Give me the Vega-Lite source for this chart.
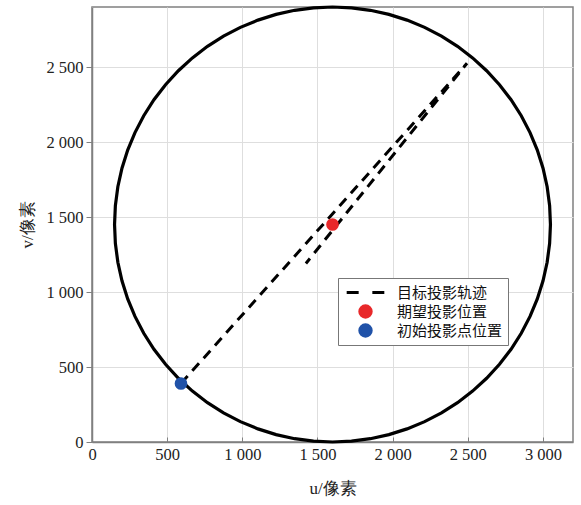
{
  "$schema": "https://vega.github.io/schema/vega-lite/v6.json",
  "width": 481,
  "height": 435,
  "autosize": {"type": "none"},
  "padding": {"left": 92, "top": 7, "right": 8, "bottom": 63},
  "background": "white",
  "config": {
    "view": {"stroke": "#808080", "strokeWidth": 1.5},
    "axis": {
      "labelFont": "Liberation Serif",
      "labelFontSize": 16.5,
      "labelColor": "#222222",
      "titleFont": "Liberation Serif",
      "titleFontSize": 17,
      "titleFontWeight": "normal",
      "titleColor": "#222222",
      "gridColor": "#dedede",
      "gridWidth": 1,
      "domainColor": "#808080",
      "domainWidth": 1.5,
      "tickColor": "#808080",
      "tickWidth": 1
    }
  },
  "datasets": {
    "circle": [
      {"i": 0, "u": 3050, "v": 1450},
      {"i": 1, "u": 3044.5, "v": 1576.4},
      {"i": 2, "u": 3028.0, "v": 1701.8},
      {"i": 3, "u": 3000.6, "v": 1825.3},
      {"i": 4, "u": 2962.5, "v": 1945.9},
      {"i": 5, "u": 2914.1, "v": 2062.8},
      {"i": 6, "u": 2855.7, "v": 2175},
      {"i": 7, "u": 2787.8, "v": 2281.7},
      {"i": 8, "u": 2710.8, "v": 2382.0},
      {"i": 9, "u": 2625.3, "v": 2475.3},
      {"i": 10, "u": 2532.0, "v": 2560.8},
      {"i": 11, "u": 2431.7, "v": 2637.8},
      {"i": 12, "u": 2325, "v": 2705.7},
      {"i": 13, "u": 2212.8, "v": 2764.1},
      {"i": 14, "u": 2095.9, "v": 2812.5},
      {"i": 15, "u": 1975.3, "v": 2850.6},
      {"i": 16, "u": 1851.8, "v": 2878.0},
      {"i": 17, "u": 1726.4, "v": 2894.5},
      {"i": 18, "u": 1600, "v": 2900},
      {"i": 19, "u": 1473.6, "v": 2894.5},
      {"i": 20, "u": 1348.2, "v": 2878.0},
      {"i": 21, "u": 1224.7, "v": 2850.6},
      {"i": 22, "u": 1104.1, "v": 2812.5},
      {"i": 23, "u": 987.2, "v": 2764.1},
      {"i": 24, "u": 875, "v": 2705.7},
      {"i": 25, "u": 768.3, "v": 2637.8},
      {"i": 26, "u": 668.0, "v": 2560.8},
      {"i": 27, "u": 574.7, "v": 2475.3},
      {"i": 28, "u": 489.2, "v": 2382.0},
      {"i": 29, "u": 412.2, "v": 2281.7},
      {"i": 30, "u": 344.3, "v": 2175},
      {"i": 31, "u": 285.9, "v": 2062.8},
      {"i": 32, "u": 237.5, "v": 1945.9},
      {"i": 33, "u": 199.4, "v": 1825.3},
      {"i": 34, "u": 172.0, "v": 1701.8},
      {"i": 35, "u": 155.5, "v": 1576.4},
      {"i": 36, "u": 150, "v": 1450},
      {"i": 37, "u": 155.5, "v": 1323.6},
      {"i": 38, "u": 172.0, "v": 1198.2},
      {"i": 39, "u": 199.4, "v": 1074.7},
      {"i": 40, "u": 237.5, "v": 954.1},
      {"i": 41, "u": 285.9, "v": 837.2},
      {"i": 42, "u": 344.3, "v": 725},
      {"i": 43, "u": 412.2, "v": 618.3},
      {"i": 44, "u": 489.2, "v": 518.0},
      {"i": 45, "u": 574.7, "v": 424.7},
      {"i": 46, "u": 668.0, "v": 339.2},
      {"i": 47, "u": 768.3, "v": 262.2},
      {"i": 48, "u": 875, "v": 194.3},
      {"i": 49, "u": 987.2, "v": 135.9},
      {"i": 50, "u": 1104.1, "v": 87.5},
      {"i": 51, "u": 1224.7, "v": 49.4},
      {"i": 52, "u": 1348.2, "v": 22.0},
      {"i": 53, "u": 1473.6, "v": 5.5},
      {"i": 54, "u": 1600, "v": 0},
      {"i": 55, "u": 1726.4, "v": 5.5},
      {"i": 56, "u": 1851.8, "v": 22.0},
      {"i": 57, "u": 1975.3, "v": 49.4},
      {"i": 58, "u": 2095.9, "v": 87.5},
      {"i": 59, "u": 2212.8, "v": 135.9},
      {"i": 60, "u": 2325, "v": 194.3},
      {"i": 61, "u": 2431.7, "v": 262.2},
      {"i": 62, "u": 2532.0, "v": 339.2},
      {"i": 63, "u": 2625.3, "v": 424.7},
      {"i": 64, "u": 2710.8, "v": 518.0},
      {"i": 65, "u": 2787.8, "v": 618.3},
      {"i": 66, "u": 2855.7, "v": 725},
      {"i": 67, "u": 2914.1, "v": 837.2},
      {"i": 68, "u": 2962.5, "v": 954.1},
      {"i": 69, "u": 3000.6, "v": 1074.7},
      {"i": 70, "u": 3028.0, "v": 1198.2},
      {"i": 71, "u": 3044.5, "v": 1323.6},
      {"i": 72, "u": 3050, "v": 1450}
    ],
    "track": [
      {"i": 1, "u": 592, "v": 390, "series": "目标投影轨迹"},
      {"i": 2, "u": 2495, "v": 2525, "series": "目标投影轨迹"},
      {"i": 3, "u": 1423, "v": 1190, "series": "目标投影轨迹"}
    ],
    "points": [
      {"u": 1600, "v": 1450, "series": "期望投影位置"},
      {"u": 592, "v": 390, "series": "初始投影点位置"}
    ]
  },
  "encoding": {
    "x": {
      "field": "u", "type": "quantitative",
      "scale": {"domain": [0, 3200], "nice": false, "zero": false},
      "axis": {
        "title": "u/像素",
        "values": [0, 500, 1000, 1500, 2000, 2500, 3000],
        "labelExpr": "replace(format(datum.value, ',d'), ',', ' ')",
        "tickSize": -5,
        "labelPadding": 9,
        "titlePadding": 18,
        "labelFlush": false
      }
    },
    "y": {
      "field": "v", "type": "quantitative",
      "scale": {"domain": [0, 2900], "nice": false, "zero": false},
      "axis": {
        "title": "v/像素",
        "values": [0, 500, 1000, 1500, 2000, 2500],
        "labelExpr": "replace(format(datum.value, ',d'), ',', ' ')",
        "tickSize": 6,
        "labelPadding": 3,
        "titlePadding": 9,
        "labelFlush": false
      }
    }
  },
  "layer": [
    {
      "data": {"name": "circle"},
      "mark": {"type": "line", "color": "black", "strokeWidth": 3.2, "clip": false},
      "encoding": {"order": {"field": "i", "type": "quantitative"}}
    },
    {
      "data": {"name": "track"},
      "mark": {"type": "line", "strokeWidth": 3, "strokeDash": [10, 7]},
      "encoding": {
        "order": {"field": "i", "type": "quantitative"},
        "color": {
          "field": "series", "type": "nominal",
          "scale": {"domain": ["目标投影轨迹", "期望投影位置", "初始投影点位置"], "range": ["#000000", "#e8282a", "#2052a8"]},
          "legend": {
            "title": null,
            "orient": "none",
            "legendX": 246,
            "legendY": 271,
            "direction": "vertical",
            "strokeColor": "#777777",
            "fillColor": "white",
            "padding": 5,
            "rowPadding": 0,
            "clipHeight": 19,
            "symbolSize": 130,
            "symbolOffset": 15,
            "labelOffset": 24,
            "labelFont": "Noto Sans CJK SC",
            "labelFontSize": 15,
            "labelColor": "#111111",
            "labelLimit": 200,
            "encode": {
              "symbols": {
                "update": {
                  "shape": {"signal": "datum.value === '目标投影轨迹' ? 'M-3.3,0H-1.2M1.2,0H3.3' : 'circle'"},
                  "fill": {"signal": "datum.value === '期望投影位置' ? '#e8282a' : (datum.value === '初始投影点位置' ? '#2052a8' : 'transparent')"},
                  "stroke": {"signal": "datum.value === '目标投影轨迹' ? '#000000' : 'transparent'"},
                  "strokeWidth": {"value": 3},
                  "strokeDash": {"value": []},
                  "opacity": {"value": 1},
                  "fillOpacity": {"value": 1},
                  "strokeOpacity": {"value": 1}
                }
              }
            }
          }
        }
      }
    },
    {
      "data": {"name": "points"},
      "mark": {"type": "point", "filled": true, "opacity": 1, "size": 160},
      "encoding": {
        "color": {"field": "series", "type": "nominal"}
      }
    }
  ]
}
